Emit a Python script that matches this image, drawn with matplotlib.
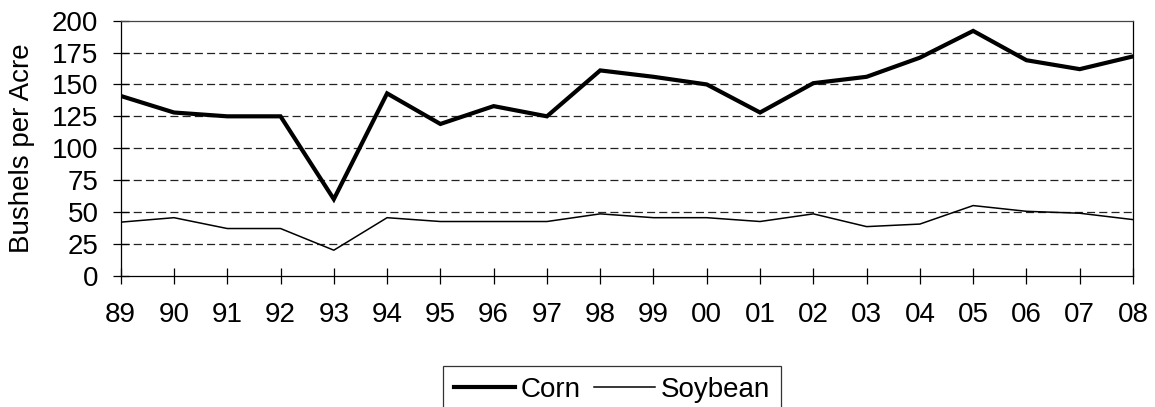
import matplotlib
matplotlib.use("Agg")
import matplotlib.pyplot as plt

years = ["89", "90", "91", "92", "93", "94", "95", "96", "97", "98",
         "99", "00", "01", "02", "03", "04", "05", "06", "07", "08"]
corn = [141, 128, 125, 125, 60, 143, 119, 133, 125, 161,
        156, 150, 128, 151, 156, 171, 192, 169, 162, 172]
soybean = [42, 45.5, 37, 37, 20, 45.5, 42.5, 42.5, 42.5, 48.5,
           45.5, 45.5, 42.5, 48.5, 38.5, 40.5, 55, 50.5, 49, 44]
yticks = [0, 25, 50, 75, 100, 125, 150, 175, 200]

plt.rcParams['font.family'] = ['Liberation Sans', 'DejaVu Sans']
plt.rcParams['lines.scale_dashes'] = False

fig = plt.figure(figsize=(11.55, 4.07), dpi=100)
ax = fig.add_axes([120.7 / 1155, 1 - 275.7 / 407, (1133 - 120.7) / 1155, 255 / 407])

x = list(range(len(years)))
ax.plot(x, corn, color='black', lw=3.0, label='Corn', solid_joinstyle='miter')
ax.plot(x, soybean, color='black', lw=1.1, label='Soybean')

ax.set_xlim(0, len(years) - 1)
ax.set_ylim(0, 200)
ax.set_yticks(yticks)
ax.set_xticks(x)
ax.set_xticklabels(years)

for yv in yticks[1:-1]:
    ax.axhline(yv, color='#222222', lw=0.9, ls=(0, (5.8, 3.0)), zorder=0)

for s in ax.spines.values():
    s.set_color('black')
    s.set_linewidth(0.9)
ax.spines['top'].set_color('#444444')

fs = 20
ax.tick_params(axis='both', direction='inout', length=12, width=0.9,
               labelsize=fs, color='black')
ax.tick_params(axis='y', pad=10)
ax.tick_params(axis='x', pad=13)

ax.set_ylabel('Bushels per Acre', fontsize=fs)
ax.yaxis.label.set_va('center')
ax.yaxis.set_label_coords(-0.0975, 0.5)

leg = fig.legend(loc='upper center', bbox_to_anchor=(612 / 1155, 1 - 366 / 407),
                 ncol=2, frameon=True, fontsize=fs, handlelength=2.2,
                 handletextpad=0.2, columnspacing=0.5, borderpad=0.4,
                 borderaxespad=0, fancybox=False, edgecolor='black')
leg.get_frame().set_linewidth(0.9)

fig.savefig('out.png', dpi=100)
